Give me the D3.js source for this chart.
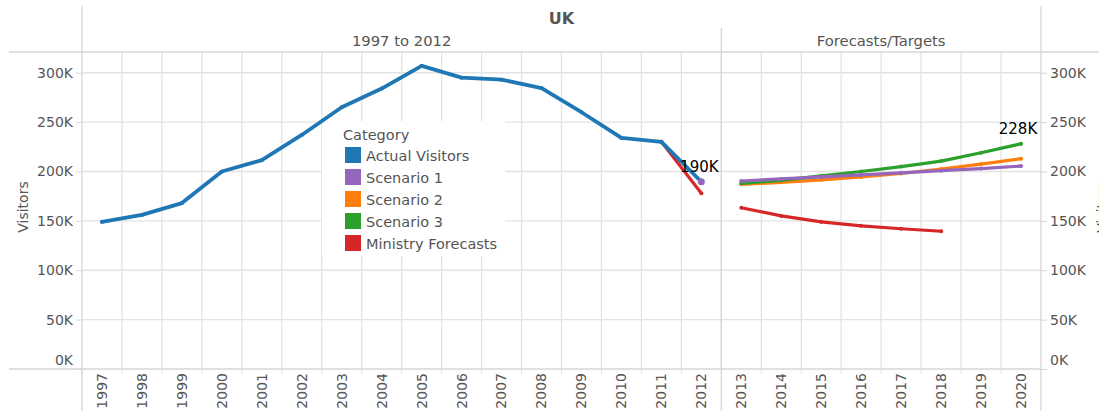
<!DOCTYPE html>
<html>
<head>
<meta charset="utf-8">
<script src="https://cdn.jsdelivr.net/npm/d3@7"></script>
<style>
  body { margin: 0; background: #fff; }
  text { font-family: "DejaVu Sans", Verdana, sans-serif; }
</style>
</head>
<body>
<div id="chart"></div>
<script>
// data (thousands of visitors)
var years = d3.range(1997, 2021).map(String);
var actualYears = d3.range(1997, 2013).map(String);
var actualValues = [149, 156, 168, 200, 211.5, 237, 265, 284, 307, 295, 293, 284.5, 260, 234, 230, 189.6];
var forecastYears = d3.range(2013, 2021).map(String);
var scenario1 = [190.4, 192.5, 194.5, 196.5, 198.6, 200.8, 203, 205.5];
var scenario2 = [187, 189, 191.5, 194.5, 198, 202.5, 207.5, 213];
var scenario3 = [188, 191, 195.5, 200, 205, 210.5, 219, 228];
var ministryYears = ["2013", "2014", "2015", "2016", "2017", "2018"];
var ministry = [163.3, 155, 149, 145, 142, 139.5];
var ministryLeftYears = ["2011", "2012"];
var ministryLeft = [230, 178];
var yTicks = [0, 50, 100, 150, 200, 250, 300];

var categories = ["Actual Visitors", "Scenario 1", "Scenario 2", "Scenario 3", "Ministry Forecasts"];
var colors = ["#1f77b4", "#9467bd", "#ff7f0e", "#2ca02c", "#d62728"];

var svgWidth = 1099, svgHeight = 411;
var plot = { left: 82, right: 1041, top: 52, bottom: 369 };

var svg = d3.select("#chart").append("svg")
  .attr("width", svgWidth)
  .attr("height", svgHeight);

var xScale = d3.scaleBand()
  .domain(years)
  .range([plot.left, plot.right])
  .padding(0);

var yScale = d3.scaleLinear()
  .domain([0, 321])
  .range([plot.bottom, plot.top]);

var color = d3.scaleOrdinal().domain(categories).range(colors);

var gridColor = "#e3e3e3";
var lineColor = "#d6d6d6";
var textColor = "#555";
var splitX = xScale("2013");

// horizontal gridlines
svg.append("g").selectAll("line").data(yTicks.slice(1)).enter().append("line")
  .attr("x1", plot.left).attr("x2", plot.right)
  .attr("y1", d => yScale(d)).attr("y2", d => yScale(d))
  .attr("stroke", gridColor).attr("stroke-width", 1.3);

// vertical gridlines at column boundaries
svg.append("g").selectAll("line").data(years.slice(1)).enter().append("line")
  .attr("x1", d => xScale(d)).attr("x2", d => xScale(d))
  .attr("y1", plot.top).attr("y2", plot.bottom)
  .attr("stroke", gridColor).attr("stroke-width", 1.3);

// small ticks below the x axis
svg.append("g").selectAll("line").data(years).enter().append("line")
  .attr("x1", d => xScale(d)).attr("x2", d => xScale(d))
  .attr("y1", plot.bottom).attr("y2", plot.bottom + 5)
  .attr("stroke", gridColor);

// frame lines
svg.append("line").attr("x1", 9).attr("x2", svgWidth).attr("y1", plot.top).attr("y2", plot.top)
  .attr("stroke", lineColor).attr("stroke-width", 1.3);
svg.append("line").attr("x1", 9).attr("x2", plot.right).attr("y1", plot.bottom).attr("y2", plot.bottom)
  .attr("stroke", lineColor).attr("stroke-width", 1.3);
svg.append("line").attr("x1", plot.left).attr("x2", plot.left).attr("y1", 6).attr("y2", svgHeight)
  .attr("stroke", lineColor).attr("stroke-width", 1.3);
svg.append("line").attr("x1", splitX).attr("x2", splitX).attr("y1", 28).attr("y2", svgHeight)
  .attr("stroke", lineColor).attr("stroke-width", 1.3);
svg.append("line").attr("x1", plot.right).attr("x2", plot.right).attr("y1", 6).attr("y2", svgHeight)
  .attr("stroke", lineColor).attr("stroke-width", 1.3);

// headers
svg.append("text")
  .attr("x", (plot.left + plot.right) / 2).attr("y", 24)
  .attr("text-anchor", "middle")
  .attr("font-size", "16px").style("font-weight", "bold").attr("fill", textColor)
  .text("UK");
svg.append("text")
  .attr("x", (plot.left + splitX) / 2).attr("y", 46)
  .attr("text-anchor", "middle")
  .attr("font-size", "14.8px").attr("fill", textColor)
  .text("1997 to 2012");
svg.append("text")
  .attr("x", (splitX + plot.right) / 2).attr("y", 46)
  .attr("text-anchor", "middle")
  .attr("font-size", "14.8px").attr("fill", textColor)
  .text("Forecasts/Targets");

// y axes (left and right)
var yAxisLeft = d3.axisLeft(yScale).tickValues(yTicks).tickSize(6).tickFormat(d => d + "K");
var yAxisRight = d3.axisRight(yScale).tickValues(yTicks).tickSize(6).tickFormat(d => d + "K");

function styleAxis(g) {
  g.select(".domain").remove();
  g.selectAll(".tick line").attr("stroke", lineColor);
  g.selectAll(".tick text")
    .attr("font-family", "DejaVu Sans, Verdana, sans-serif")
    .attr("font-size", "14px").attr("fill", textColor);
  g.selectAll(".tick").filter(d => d === 0).select("text").attr("dy", "-0.3em");
}

svg.append("g").attr("transform", `translate(${plot.left},0)`).call(yAxisLeft).call(styleAxis);
svg.append("g").attr("transform", `translate(${plot.right},0)`).call(yAxisRight).call(styleAxis);

svg.append("text")
  .attr("transform", "rotate(-90)")
  .attr("x", -207).attr("y", 28)
  .attr("text-anchor", "middle")
  .attr("font-size", "14px").attr("fill", textColor)
  .text("Visitors");
// right axis title, clipped by the edge as in the original
svg.append("text")
  .attr("transform", "rotate(-90)")
  .attr("x", -207).attr("y", 1107)
  .attr("text-anchor", "middle")
  .attr("font-size", "14px").attr("fill", textColor)
  .text("Visitors");

// x axis labels (rotated)
var xAxis = d3.axisBottom(xScale).tickSize(0);
svg.append("g")
  .attr("transform", `translate(0,${plot.bottom})`)
  .call(xAxis)
  .call(g => g.select(".domain").remove())
  .selectAll("text")
  .attr("font-family", "DejaVu Sans, Verdana, sans-serif")
  .attr("font-size", "14px").attr("fill", textColor)
  .attr("transform", "rotate(-90)")
  .attr("text-anchor", "end")
  .attr("x", -4).attr("y", 0).attr("dy", "0.35em");

// legend (floating white box)
var legend = svg.append("g").attr("transform", "translate(322,121)");
legend.append("rect").attr("width", 183).attr("height", 135).attr("fill", "#fff");
legend.append("text").attr("x", 21).attr("y", 19)
  .attr("font-size", "14.5px").attr("fill", textColor).text("Category");
var items = legend.selectAll(".item").data(categories).enter().append("g")
  .attr("transform", (d, i) => `translate(23,${26 + i * 22})`);
items.append("rect").attr("width", 16).attr("height", 16).attr("fill", d => color(d));
items.append("text").attr("x", 21).attr("y", 13.5)
  .attr("font-size", "14.5px").attr("fill", textColor).text(d => d);

// lines
var line = d3.line()
  .x(d => xScale(d.year) + xScale.bandwidth() / 2)
  .y(d => yScale(d.value));

var series = [
  { name: "Ministry Forecasts", years: ministryLeftYears, values: ministryLeft },
  { name: "Actual Visitors", years: actualYears, values: actualValues },
  { name: "Ministry Forecasts", years: ministryYears, values: ministry },
  { name: "Scenario 2", years: forecastYears, values: scenario2 },
  { name: "Scenario 3", years: forecastYears, values: scenario3 },
  { name: "Scenario 1", years: forecastYears, values: scenario1 }
];

series.forEach(function(s) {
  var pts = s.years.map((y, i) => ({ year: y, value: s.values[i] }));
  svg.append("path").datum(pts)
    .attr("fill", "none")
    .attr("stroke", color(s.name))
    .attr("stroke-width", s.name === "Actual Visitors" ? 3.8 : 3.2)
    .attr("stroke-linejoin", "round")
    .attr("stroke-linecap", "round")
    .attr("d", line);
  svg.append("g").selectAll("circle").data(pts).enter().append("circle")
    .attr("cx", d => xScale(d.year) + xScale.bandwidth() / 2)
    .attr("cy", d => yScale(d.value))
    .attr("r", 2)
    .attr("fill", color(s.name));
});

// end point of actual visitors (highlighted)
svg.append("circle")
  .attr("cx", xScale("2012") + xScale.bandwidth() / 2)
  .attr("cy", yScale(actualValues[actualValues.length - 1]))
  .attr("r", 3.5)
  .attr("fill", color("Scenario 1"));

// mark labels
svg.append("text")
  .attr("x", xScale("2012") + xScale.bandwidth() / 2 - 2)
  .attr("y", yScale(actualValues[actualValues.length - 1]) - 10)
  .attr("text-anchor", "middle")
  .attr("font-size", "15px").attr("fill", "#000")
  .text("190K");
svg.append("text")
  .attr("x", xScale("2020") + xScale.bandwidth() / 2 - 3)
  .attr("y", yScale(scenario3[scenario3.length - 1]) - 10)
  .attr("text-anchor", "middle")
  .attr("font-size", "15px").attr("fill", "#000")
  .text("228K");
</script>
</body>
</html>
